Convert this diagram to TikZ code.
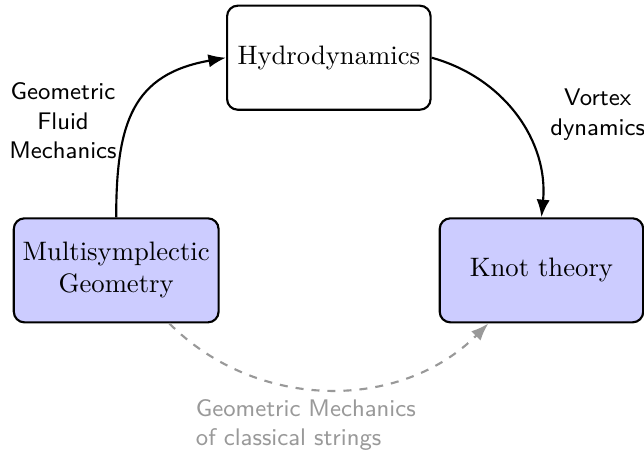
\documentclass[tikz,border=0pt]{standalone}
\usepackage{tikz}
\usetikzlibrary{arrows.meta, positioning}

\begin{document}
\begin{tikzpicture}[
  box/.style={draw, rounded corners, thick, align=center,
              minimum width=2.68cm, minimum height=1.37cm},
  topic/.style={box, fill=blue!20},
  arr/.style={-{Latex}, thick},
  lbl/.style={font=\small\sffamily, align=center}
]
  \useasboundingbox (-1.53,-2.43) rectangle (6.95,3.56);

  \node[topic] (ms) at (0, 0)     {Multisymplectic\\Geometry};
  \node[box]   (hy) at (2.8, 2.8) {Hydrodynamics};
  \node[topic] (kt) at (5.6, 0)   {Knot theory};

  \node[lbl] (gfm) at (-0.7, 1.97) {Geometric\\Fluid\\Mechanics};
  \node[lbl] (vd)  at (6.34, 2.05) {Vortex\\dynamics};

  \draw[arr] (ms.north) to[out=90, in=190, looseness=1.25] (hy.west);
  \draw[arr] (hy.east) to[bend left=40] (kt.north);
  \draw[arr, gray!80, dashed] (ms.-45) to[bend right=45]
    node[midway, below, lbl, text width=3.5cm, align=left, text=gray!80] (gmcs)
      {Geometric Mechanics\\of classical strings} (kt.-135);
\end{tikzpicture}
\end{document}
